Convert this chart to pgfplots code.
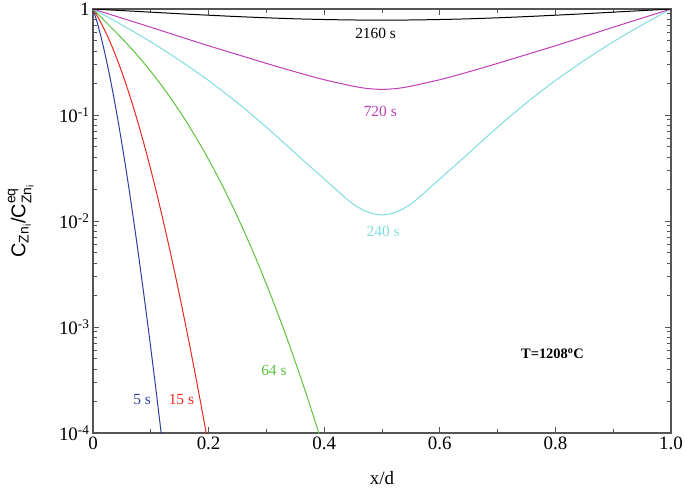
\documentclass[border=0pt]{standalone}
\usepackage{pgfplots}
\pgfplotsset{compat=1.18}
\usepackage{amsmath}
\usepackage{fontspec}
\setmainfont{Liberation Serif}
\setsansfont{Liberation Sans}
\definecolor{cblue}{HTML}{2A3F9F}
\definecolor{cred}{HTML}{E8281E}
\definecolor{cgreen}{HTML}{5CC33C}
\definecolor{ccyan}{HTML}{7FDDDD}
\definecolor{cmag}{HTML}{C03CB4}
\definecolor{axgray}{HTML}{555555}
\begin{document}
\begin{tikzpicture}
\path[use as bounding box] (-93bp,-55bp) rectangle (592bp,433bp);
\begin{axis}[
  at={(0,0)}, anchor=south west,
  scale only axis, width=578bp, height=424bp,
  ymode=log, xmin=0, xmax=1, ymin=1e-4, ymax=1,
  axis line style={axgray, line width=1.1pt},
  every tick/.style={axgray, line width=0.9pt},
  major tick length=6bp, minor tick length=4bp,
  tick align=inside,
  xtick={0,0.2,0.4,0.6,0.8,1.0},
  xticklabels={0,0.2,0.4,0.6,0.8,1.0},
  minor xtick={0.1,0.3,0.5,0.7,0.9},
  ytick={1e-4,1e-3,1e-2,1e-1,1},
  yticklabels={10\textsuperscript{-4},10\textsuperscript{-3},10\textsuperscript{-2},10\textsuperscript{-1},1},
  minor ytick={2e-4,3e-4,4e-4,5e-4,6e-4,7e-4,8e-4,9e-4,2e-3,3e-3,4e-3,5e-3,6e-3,7e-3,8e-3,9e-3,2e-2,3e-2,4e-2,5e-2,6e-2,7e-2,8e-2,9e-2,0.2,0.3,0.4,0.5,0.6,0.7,0.8,0.9},
  ticklabel style={font=\fontsize{19}{21}\selectfont},
  xlabel={x/d},
  xlabel style={font=\fontsize{19}{21}\selectfont, at={(axis description cs:0.5,-0.106)}, anchor=center},
  ylabel={C$_{\text{Zn}_{\text{i}}}$/C$^{\text{eq}}_{\text{Zn}_{\text{i}}}$},
  ylabel style={font=\sffamily\fontsize{20}{22}\selectfont, at={(axis description cs:-0.125,0.5)}, anchor=center, rotate=0},
  every axis plot/.append style={line width=1.0pt},
]
% 5 s
\addplot[cblue, smooth] coordinates {
(0,1) (0.00628,0.7773) (0.01292,0.5716) (0.01992,0.3961) (0.02728,0.2579) (0.0350,0.1573) (0.04308,0.0897) (0.05152,0.0477) (0.06032,0.0237) (0.06948,0.0109) (0.0790,0.00468) (0.08888,0.00186) (0.09912,6.89e-4) (0.10972,2.36e-4) (0.12068,7.5e-5)};
% 15 s
\addplot[cred, smooth] coordinates {
(0,1) (0.01179,0.7773) (0.02397,0.5716) (0.03653,0.3961) (0.04947,0.2579) (0.0628,0.1573) (0.07651,0.0897) (0.09061,0.0477) (0.10509,0.0237) (0.11995,0.0109) (0.1352,0.00468) (0.15083,0.00186) (0.16685,6.89e-4) (0.18325,2.36e-4) (0.20003,7.5e-5)};
% 64 s
\addplot[cgreen, smooth] coordinates {
(0,1) (0.01971,0.7773) (0.04403,0.5716) (0.07116,0.3961) (0.09994,0.2579) (0.12961,0.1573) (0.1597,0.0897) (0.18991,0.0477) (0.2201,0.0237) (0.25015,0.0109) (0.28002,0.00468) (0.30974,0.00186) (0.33926,6.89e-4) (0.36865,2.36e-4) (0.39788,7.5e-5)};
% 240 s
\addplot[ccyan, smooth] coordinates {
(0,1) (0.05,0.7079) (0.1,0.4898) (0.15,0.3273) (0.2,0.2113) (0.25,0.1303) (0.3,0.07674) (0.35,0.04365) (0.375,0.03296) (0.4,0.02495) (0.425,0.01884) (0.45,0.01445) (0.475,0.01216) (0.5,0.0114)
(0.525,0.01216) (0.55,0.01445) (0.575,0.01884) (0.6,0.02495) (0.625,0.03296) (0.65,0.04365) (0.7,0.07674) (0.75,0.1303) (0.8,0.2113) (0.85,0.3273) (0.9,0.4898) (0.95,0.7079) (1,1)};
% 720 s
\addplot[cmag, smooth] coordinates {
(0,1) (0.05,0.8204) (0.1,0.6730) (0.15,0.5495) (0.2,0.4498) (0.25,0.3715) (0.3,0.3069) (0.35,0.2553) (0.4,0.2153) (0.45,0.1871) (0.475,0.1778) (0.5,0.1746)
(0.525,0.1778) (0.55,0.1871) (0.6,0.2153) (0.65,0.2553) (0.7,0.3069) (0.75,0.3715) (0.8,0.4498) (0.85,0.5495) (0.9,0.6730) (0.95,0.8204) (1,1)};
% 2160 s
\addplot[black, smooth] coordinates {
(0,1) (0.05,0.966) (0.1,0.934) (0.15,0.902) (0.2,0.874) (0.25,0.848) (0.3,0.826) (0.35,0.808) (0.4,0.796) (0.45,0.788) (0.5,0.785)
(0.55,0.788) (0.6,0.796) (0.65,0.808) (0.7,0.826) (0.75,0.848) (0.8,0.874) (0.85,0.902) (0.9,0.934) (0.95,0.966) (1,1)};
\node[font=\fontsize{15.5}{17}\selectfont, black] at (axis cs:0.489,0.59) {2160 s};
\node[font=\fontsize{15.5}{17}\selectfont, text=cmag] at (axis cs:0.497,0.109) {720 s};
\node[font=\fontsize{15.5}{17}\selectfont, text=ccyan] at (axis cs:0.502,0.00794) {240 s};
\node[font=\fontsize{15.5}{17}\selectfont, text=cgreen] at (axis cs:0.313,3.93e-4) {64 s};
\node[font=\fontsize{15.5}{17}\selectfont, text=cblue] at (axis cs:0.085,2.08e-4) {5 s};
\node[font=\fontsize{15.5}{17}\selectfont, text=cred] at (axis cs:0.153,2.08e-4) {15 s};
\node[font=\bfseries\fontsize{14.5}{16}\selectfont, black] at (axis cs:0.795,5.6e-4) {T=1208\textsuperscript{o}C};
\end{axis}
\end{tikzpicture}
\end{document}
